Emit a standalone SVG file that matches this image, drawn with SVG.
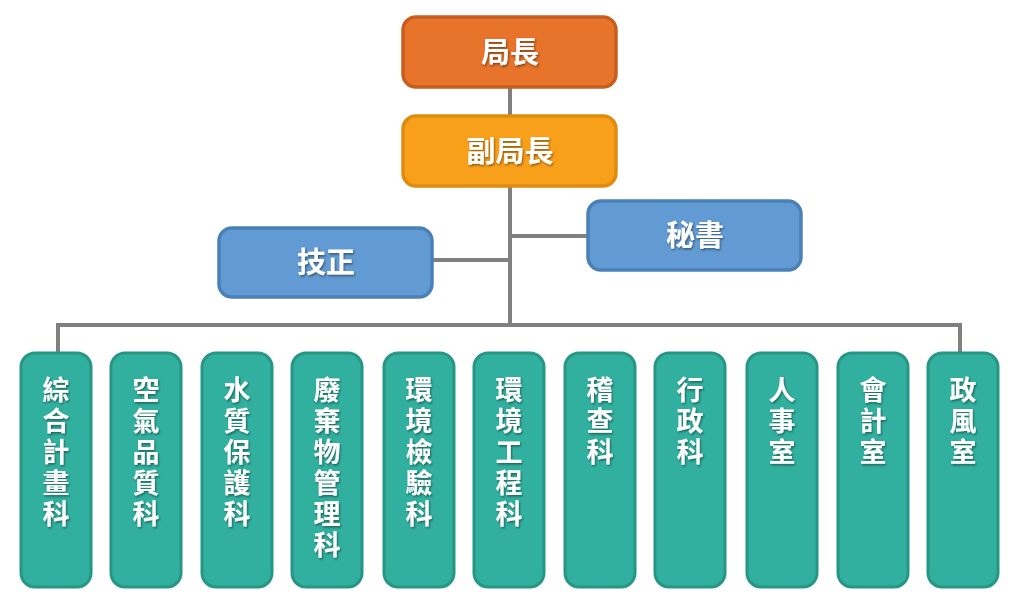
<svg xmlns="http://www.w3.org/2000/svg" width="1017" height="604" viewBox="0 0 1017 604">
<style>
.t{font-family:"Noto Sans CJK TC","Noto Sans CJK SC",sans-serif;font-weight:bold;fill:#fff;font-size:27px;text-anchor:middle}
.h{font-size:29px}
.b{stroke-width:3.5}
.c{fill:#32B09F;stroke:#279684;stroke-width:3}
.l{stroke:#808080;stroke-width:4;fill:none}
</style>
<defs><filter id="s"><feDropShadow dx="1" dy="1.5" stdDeviation="1" flood-opacity="0.45"/></filter></defs>
<rect width="1017" height="604" fill="#fff"/>
<g id="connectors" class="l">
<path d="M510 87V325M58 352V325H960V352M510 236H588M432 260H510"/>
</g>
<g id="n1"><rect class="b" x="403" y="17" width="213" height="70" rx="13" fill="#E8732A" stroke="#C75E1E"/><text class="t h" x="510" y="63" filter="url(#s)">局長</text></g>
<g id="n2"><rect class="b" x="403" y="116" width="213" height="70" rx="13" fill="#F9A01B" stroke="#E08A10"/><text class="t h" x="510" y="162" filter="url(#s)">副局長</text></g>
<g id="n3"><rect class="b" x="588" y="201" width="213" height="69" rx="13" fill="#629BD3" stroke="#4A80B8"/><text class="t h" x="695" y="246" filter="url(#s)">秘書</text></g>
<g id="n4"><rect class="b" x="219" y="228" width="213" height="69" rx="13" fill="#629BD3" stroke="#4A80B8"/><text class="t h" x="326" y="273" filter="url(#s)">技正</text></g>
<g id="d1"><rect class="c" x="21" y="353" width="70" height="234" rx="14"/><text class="t" filter="url(#s)"><tspan x="56" y="400">綜</tspan><tspan x="56" dy="31">合</tspan><tspan x="56" dy="31">計</tspan><tspan x="56" dy="31">畫</tspan><tspan x="56" dy="31">科</tspan></text></g>
<g id="d2"><rect class="c" x="111" y="353" width="70" height="234" rx="14"/><text class="t" filter="url(#s)"><tspan x="146" y="400">空</tspan><tspan x="146" dy="31">氣</tspan><tspan x="146" dy="31">品</tspan><tspan x="146" dy="31">質</tspan><tspan x="146" dy="31">科</tspan></text></g>
<g id="d3"><rect class="c" x="202" y="353" width="70" height="234" rx="14"/><text class="t" filter="url(#s)"><tspan x="237" y="400">水</tspan><tspan x="237" dy="31">質</tspan><tspan x="237" dy="31">保</tspan><tspan x="237" dy="31">護</tspan><tspan x="237" dy="31">科</tspan></text></g>
<g id="d4"><rect class="c" x="292" y="353" width="70" height="234" rx="14"/><text class="t" filter="url(#s)"><tspan x="327" y="400">廢</tspan><tspan x="327" dy="31">棄</tspan><tspan x="327" dy="31">物</tspan><tspan x="327" dy="31">管</tspan><tspan x="327" dy="31">理</tspan><tspan x="327" dy="31">科</tspan></text></g>
<g id="d5"><rect class="c" x="384" y="353" width="70" height="234" rx="14"/><text class="t" filter="url(#s)"><tspan x="419" y="400">環</tspan><tspan x="419" dy="31">境</tspan><tspan x="419" dy="31">檢</tspan><tspan x="419" dy="31">驗</tspan><tspan x="419" dy="31">科</tspan></text></g>
<g id="d6"><rect class="c" x="474" y="353" width="70" height="234" rx="14"/><text class="t" filter="url(#s)"><tspan x="509" y="400">環</tspan><tspan x="509" dy="31">境</tspan><tspan x="509" dy="31">工</tspan><tspan x="509" dy="31">程</tspan><tspan x="509" dy="31">科</tspan></text></g>
<g id="d7"><rect class="c" x="565" y="353" width="70" height="234" rx="14"/><text class="t" filter="url(#s)"><tspan x="600" y="400">稽</tspan><tspan x="600" dy="31">查</tspan><tspan x="600" dy="31">科</tspan></text></g>
<g id="d8"><rect class="c" x="655" y="353" width="70" height="234" rx="14"/><text class="t" filter="url(#s)"><tspan x="690" y="400">行</tspan><tspan x="690" dy="31">政</tspan><tspan x="690" dy="31">科</tspan></text></g>
<g id="d9"><rect class="c" x="747" y="353" width="70" height="234" rx="14"/><text class="t" filter="url(#s)"><tspan x="782" y="400">人</tspan><tspan x="782" dy="31">事</tspan><tspan x="782" dy="31">室</tspan></text></g>
<g id="d10"><rect class="c" x="838" y="353" width="70" height="234" rx="14"/><text class="t" filter="url(#s)"><tspan x="873" y="400">會</tspan><tspan x="873" dy="31">計</tspan><tspan x="873" dy="31">室</tspan></text></g>
<g id="d11"><rect class="c" x="928" y="353" width="70" height="234" rx="14"/><text class="t" filter="url(#s)"><tspan x="963" y="400">政</tspan><tspan x="963" dy="31">風</tspan><tspan x="963" dy="31">室</tspan></text></g>
</svg>
